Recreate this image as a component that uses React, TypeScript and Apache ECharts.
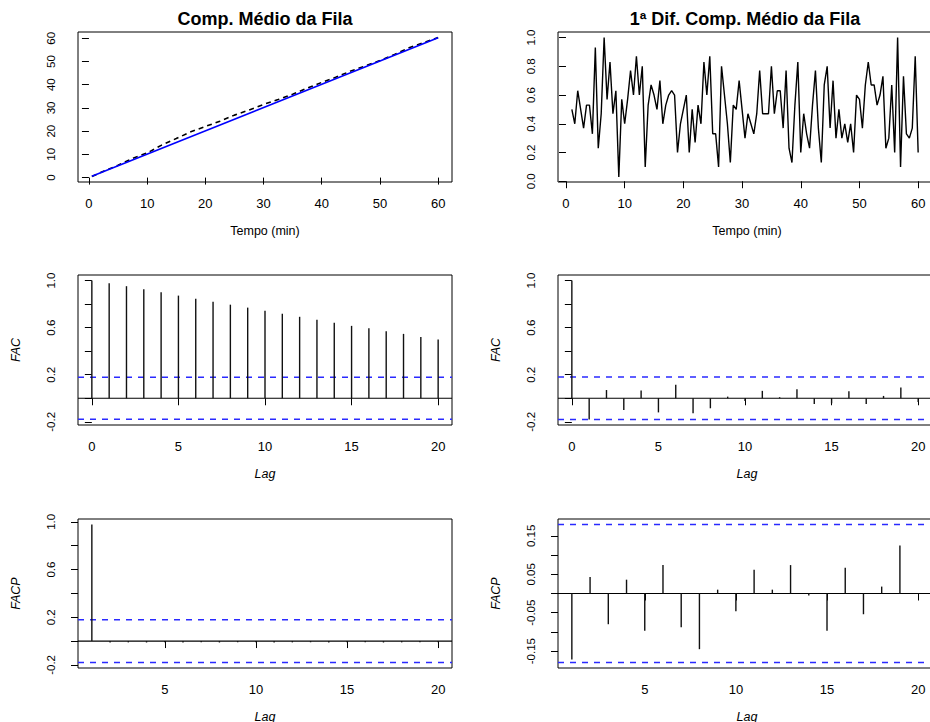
import React, { useEffect, useRef } from "react";
import * as echarts from "echarts";

// ---------- Data ----------
// Top-left: mean queue length (dashed) and its linear trend (blue)
const levelTime = [0.5, 2.5, 5, 7.5, 10, 12.5, 15, 17.5, 20, 22.5, 25, 27.5, 30, 32.5, 35, 37.5, 40, 42.5, 45, 47.5, 50, 52.5, 55, 57.5, 60];
const levelValue = [0.5, 2.7, 5.3, 8.3, 10.6, 14.0, 16.8, 19.7, 22.0, 24.3, 26.9, 29.1, 31.5, 33.6, 35.9, 38.5, 41.0, 43.3, 45.9, 48.1, 50.4, 53.0, 55.9, 58.1, 60.3];
const trendTime = [0.5, 60];
const trendValue = [0.6, 60.2];

// Top-right: first difference (t = 1, 1.5, ..., 60)
const diffValues = [
  0.50, 0.40, 0.63, 0.50, 0.37, 0.53, 0.53, 0.33, 0.93, 0.23,
  0.47, 1.00, 0.57, 0.83, 0.47, 0.63, 0.03, 0.57, 0.40, 0.57,
  0.77, 0.60, 0.87, 0.60, 0.80, 0.10, 0.53, 0.67, 0.60, 0.50,
  0.70, 0.40, 0.53, 0.60, 0.63, 0.60, 0.20, 0.40, 0.50, 0.60,
  0.20, 0.50, 0.27, 0.53, 0.40, 0.83, 0.60, 0.87, 0.33, 0.33,
  0.10, 0.80, 0.60, 0.40, 0.13, 0.53, 0.50, 0.70, 0.50, 0.30,
  0.47, 0.40, 0.33, 0.47, 0.77, 0.47, 0.47, 0.47, 0.80, 0.47,
  0.63, 0.63, 0.37, 0.77, 0.23, 0.13, 0.53, 0.83, 0.20, 0.47,
  0.33, 0.23, 0.53, 0.77, 0.37, 0.13, 0.67, 0.80, 0.37, 0.70,
  0.30, 0.50, 0.30, 0.40, 0.27, 0.40, 0.20, 0.60, 0.57, 0.37,
  0.67, 0.83, 0.67, 0.67, 0.53, 0.60, 0.73, 0.23, 0.30, 0.67,
  0.20, 1.00, 0.10, 0.73, 0.33, 0.30, 0.37, 0.87, 0.20,
];
const diffTime = diffValues.map((_, i) => 1 + i * 0.5);

// ACF of the series (lags 0..20)
const acfLags = [0, 1, 2, 3, 4, 5, 6, 7, 8, 9, 10, 11, 12, 13, 14, 15, 16, 17, 18, 19, 20];
const acfLevel = [1.0, 0.977, 0.952, 0.926, 0.90, 0.872, 0.846, 0.82, 0.795, 0.77, 0.744, 0.718, 0.692, 0.667, 0.641, 0.615, 0.595, 0.57, 0.547, 0.521, 0.50];
// ACF of the first difference (lags 0..20)
const acfDiff = [1.0, -0.18, 0.07, -0.10, 0.065, -0.12, 0.114, -0.128, -0.085, 0.014, -0.023, 0.063, 0.009, 0.077, -0.048, -0.043, 0.06, -0.048, 0.02, 0.091, -0.031];

// PACF (lags 1..20)
const pacfLags = [1, 2, 3, 4, 5, 6, 7, 8, 9, 10, 11, 12, 13, 14, 15, 16, 17, 18, 19, 20];
const pacfLevel = [0.977, -0.012, -0.011, -0.012, -0.010, -0.012, -0.011, -0.012, -0.010, -0.011, -0.012, -0.011, -0.010, -0.012, -0.011, -0.010, -0.012, -0.011, -0.010, -0.011];
const pacfDiff = [-0.172, 0.043, -0.080, 0.036, -0.097, 0.074, -0.088, -0.145, 0.010, -0.046, 0.062, 0.010, 0.074, -0.005, -0.097, 0.067, -0.054, 0.018, 0.125, 0.001];

// Confidence limits
const ciLevel = 0.179;
const ciDiff = 0.18;

// Tick values
const timeTicks = [0, 10, 20, 30, 40, 50, 60];
const levelTicks = [0, 10, 20, 30, 40, 50, 60];
const diffTicks = [0, 0.2, 0.4, 0.6, 0.8, 1.0];
const lagTicks = [0, 5, 10, 15, 20];
const pacfLagTicks = [5, 10, 15, 20];
const acfTicks = [-0.2, 0, 0.2, 0.4, 0.6, 0.8, 1.0];
const acfLabelTicks = [-0.2, 0.2, 0.6, 1.0];
const pacfDiffTicks = [-0.15, -0.1, -0.05, 0, 0.05, 0.1, 0.15];
const pacfDiffLabelTicks = [-0.15, -0.05, 0.05, 0.15];

const FONT = '"Liberation Sans", Arial, Helvetica, sans-serif';

function fmt(dec: number) {
  return (v: number) => (Math.abs(v) < 1e-9 ? (0).toFixed(dec) : v.toFixed(dec));
}

function makeXAxis(gridIndex: number, min: number, max: number, ticks: number[], name: string, italic: boolean) {
  return {
    type: "value",
    gridIndex,
    min,
    max,
    name,
    nameLocation: "middle",
    nameGap: 42,
    nameTextStyle: { fontFamily: FONT, fontSize: 12.5, color: "#000", fontStyle: italic ? "italic" : "normal" },
    axisLine: { show: false },
    axisTick: { show: true, length: 7, inside: false, customValues: ticks, lineStyle: { color: "#000", width: 1 } },
    axisLabel: { show: true, customValues: ticks, margin: 15, fontFamily: FONT, fontSize: 13, color: "#000", formatter: (v: number) => String(v) },
    splitLine: { show: false },
  };
}

function makeYAxis(gridIndex: number, min: number, max: number, ticks: number[], labels: number[], dec: number, name: string) {
  return {
    type: "value",
    gridIndex,
    min,
    max,
    name,
    nameLocation: "middle",
    nameGap: 56,
    nameRotate: 90,
    nameTextStyle: { fontFamily: FONT, fontSize: 12.5, color: "#000", fontStyle: "italic" },
    axisLine: { show: false },
    axisTick: { show: true, length: 7, inside: false, customValues: ticks, lineStyle: { color: "#000", width: 1 } },
    axisLabel: { show: true, customValues: labels, rotate: 90, margin: 21, fontFamily: FONT, fontSize: 11.5, color: "#000", formatter: fmt(dec) },
    splitLine: { show: false },
  };
}

function spikeSeries(gi: number, lags: number[], vals: number[]) {
  return {
    type: "custom",
    xAxisIndex: gi,
    yAxisIndex: gi,
    encode: { x: 0, y: 1 },
    data: lags.map((l, i) => [l, vals[i]]),
    z: 3,
    renderItem: (_p: any, api: any) => {
      const x = api.value(0);
      const y = api.value(1);
      const a = api.coord([x, 0]);
      const b = api.coord([x, y]);
      return {
        type: "line",
        shape: { x1: a[0], y1: a[1], x2: b[0], y2: b[1] },
        style: { stroke: "#111", lineWidth: 1.4 },
      };
    },
  };
}

function hline(gi: number, y: number, xmin: number, xmax: number, color: string, dashed: boolean) {
  return {
    type: "line",
    xAxisIndex: gi,
    yAxisIndex: gi,
    data: [[xmin, y], [xmax, y]],
    symbol: "none",
    showSymbol: false,
    silent: true,
    z: 2,
    lineStyle: { color, width: dashed ? 1.5 : 1.2, type: dashed ? [6, 6] : "solid" },
  };
}

export default function App() {
  const ref = useRef<HTMLDivElement>(null);
  useEffect(() => {
    if (!ref.current) return;
    const chart = echarts.init(ref.current, undefined, { renderer: "svg" });
    const gridBase = {
      show: true, borderColor: "#000", borderWidth: 1, backgroundColor: "transparent",
      containLabel: false, outerBoundsMode: "none",
    };
    // left column: 374px wide boxes; right column boxes run past the page edge (same scale)
    const xMinAcf = -0.8, xMaxAcf = 20.8, xMaxAcfR = 21.03;
    const xMinPacf = 0.24, xMaxPacf = 20.76, xMaxPacfR = 20.98;
    const blue = "#2a2aff";
    const option: any = {
      animation: false,
      backgroundColor: "#fff",
      textStyle: { fontFamily: FONT },
      graphic: [
        { type: "text", x: 265, y: 19, style: { text: "Comp. Médio da Fila", font: `bold 18px ${FONT}`, fill: "#000", textAlign: "center", textVerticalAlign: "middle" } },
        { type: "text", x: 745, y: 19, style: { text: "1ª Dif. Comp. Médio da Fila", font: `bold 18px ${FONT}`, fill: "#000", textAlign: "center", textVerticalAlign: "middle" } },
      ],
      grid: [
        { ...gridBase, left: 78, top: 32, width: 374, height: 150 },
        { ...gridBase, left: 558, top: 32, width: 378, height: 150 },
        { ...gridBase, left: 78, top: 275, width: 374, height: 150 },
        { ...gridBase, left: 558, top: 275, width: 378, height: 150 },
        { ...gridBase, left: 78, top: 519, width: 374, height: 149 },
        { ...gridBase, left: 558, top: 519, width: 378, height: 149 },
      ],
      xAxis: [
        makeXAxis(0, -1.88, 62.38, timeTicks, "Tempo (min)", false),
        makeXAxis(1, -1.36, 63.04, timeTicks, "Tempo (min)", false),
        makeXAxis(2, xMinAcf, xMaxAcf, lagTicks, "Lag", true),
        makeXAxis(3, xMinAcf, xMaxAcfR, lagTicks, "Lag", true),
        makeXAxis(4, xMinPacf, xMaxPacf, pacfLagTicks, "Lag", true),
        makeXAxis(5, xMinPacf, xMaxPacfR, pacfLagTicks, "Lag", true),
      ],
      yAxis: [
        makeYAxis(0, -1.9, 62.7, levelTicks, levelTicks, 0, ""),
        makeYAxis(1, -0.0053, 1.0387, diffTicks, diffTicks, 1, ""),
        makeYAxis(2, -0.227, 1.047, acfTicks, acfLabelTicks, 1, "FAC"),
        makeYAxis(3, -0.227, 1.047, acfTicks, acfLabelTicks, 1, "FAC"),
        makeYAxis(4, -0.226, 1.024, acfTicks, acfLabelTicks, 1, "FACP"),
        makeYAxis(5, -0.194, 0.194, pacfDiffTicks, pacfDiffLabelTicks, 2, "FACP"),
      ],
      series: [
        {
          type: "line", xAxisIndex: 0, yAxisIndex: 0, symbol: "none", showSymbol: false, z: 2,
          data: levelTime.map((t, i) => [t, levelValue[i]]),
          lineStyle: { color: "#000", width: 1.6, type: [5, 4] },
        },
        {
          type: "line", xAxisIndex: 0, yAxisIndex: 0, symbol: "none", showSymbol: false, z: 3,
          data: trendTime.map((t, i) => [t, trendValue[i]]),
          lineStyle: { color: "#0000ff", width: 1.6 },
        },
        {
          type: "line", xAxisIndex: 1, yAxisIndex: 1, symbol: "none", showSymbol: false, z: 2,
          data: diffTime.map((t, i) => [t, diffValues[i]]),
          lineStyle: { color: "#000", width: 1.4 },
        },
        hline(2, 0, xMinAcf, xMaxAcf, "#000", false),
        hline(2, ciLevel, xMinAcf, xMaxAcf, blue, true),
        hline(2, -ciLevel, xMinAcf, xMaxAcf, blue, true),
        spikeSeries(2, acfLags, acfLevel),
        hline(3, 0, xMinAcf, xMaxAcfR, "#000", false),
        hline(3, ciDiff, xMinAcf, xMaxAcfR, blue, true),
        hline(3, -ciDiff, xMinAcf, xMaxAcfR, blue, true),
        spikeSeries(3, acfLags, acfDiff),
        hline(4, 0, xMinPacf, xMaxPacf, "#000", false),
        hline(4, ciLevel, xMinPacf, xMaxPacf, blue, true),
        hline(4, -ciLevel, xMinPacf, xMaxPacf, blue, true),
        spikeSeries(4, pacfLags, pacfLevel),
        hline(5, 0, xMinPacf, xMaxPacfR, "#000", false),
        hline(5, ciDiff, xMinPacf, xMaxPacfR, blue, true),
        hline(5, -ciDiff, xMinPacf, xMaxPacfR, blue, true),
        spikeSeries(5, pacfLags, pacfDiff),
      ],
    };
    chart.setOption(option);
    return () => chart.dispose();
  }, []);
  return (
    <div
      ref={ref}
      style={{ position: "fixed", left: 0, top: 0, width: 930, height: 722, background: "#fff" }}
    />
  );
}
